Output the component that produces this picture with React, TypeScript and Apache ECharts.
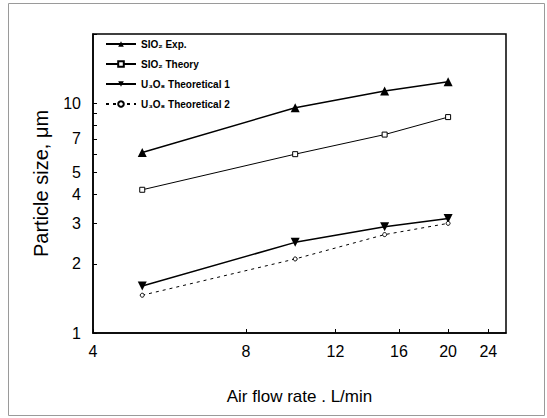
import React, { useEffect, useRef } from "react";
import * as echarts from "echarts";

const flowRates = [5, 10, 15, 20];
const sio2Exp = [6.1, 9.55, 11.3, 12.4];
const sio2Theory = [4.2, 6.0, 7.3, 8.7];
const u3o8Theo1 = [1.6, 2.48, 2.9, 3.15];
const u3o8Theo2 = [1.46, 2.1, 2.68, 3.0];

const xTickLabels = [4, 8, 12, 16, 20, 24];
const yTickLabels = [1, 2, 3, 4, 5, 7, 10];
const yTicks = [1, 2, 3, 4, 5, 6, 7, 8, 9, 10, 20];

const seriesNames = [
  "SIO\u2082 Exp.",
  "SIO\u2082 Theory",
  "U\u2083O\u2088 Theoretical 1",
  "U\u2083O\u2088 Theoretical 2",
];

const pairs = (ys: number[]) => flowRates.map((x, i) => [x, ys[i]]);

export default function App() {
  const ref = useRef<HTMLDivElement>(null);
  useEffect(() => {
    if (!ref.current) return;
    const chart = echarts.init(ref.current, undefined, { renderer: "svg" });
    const font = "'Liberation Sans', Arial, sans-serif";
    chart.setOption({
      animation: false,
      backgroundColor: "#fff",
      textStyle: { fontFamily: font, color: "#000" },
      graphic: [
        {
          type: "rect",
          shape: { x: 8.5, y: 3.5, width: 536, height: 412 },
          style: { fill: "none", stroke: "#9a9a9a", lineWidth: 1 },
          silent: true,
        },
      ],
      grid: {
        left: 93,
        top: 34,
        right: 41,
        bottom: 85,
        show: true,
        borderColor: "#000",
        borderWidth: 1.5,
        backgroundColor: "transparent",
      },
      legend: {
        left: 100,
        top: 34,
        orient: "vertical",
        itemWidth: 30,
        itemHeight: 7,
        itemGap: 10,
        textStyle: { fontSize: 10, fontWeight: "bold", color: "#000", fontFamily: font },
        data: seriesNames,
      },
      xAxis: {
        type: "log",
        logBase: 10,
        min: 4,
        max: 26,
        name: "Air flow rate . L/min",
        nameLocation: "middle",
        nameGap: 55,
        nameTextStyle: { fontSize: 17, color: "#000", fontFamily: font },
        axisLine: { show: true, lineStyle: { color: "#000", width: 1.5 } },
        axisTick: { show: true, inside: true, length: 4, lineStyle: { color: "#000" }, customValues: xTickLabels },
        axisLabel: { color: "#000", fontSize: 16, margin: 10, customValues: xTickLabels, formatter: (v: number) => String(v) },
        minorTick: { show: false },
        splitLine: { show: false },
      },
      yAxis: {
        type: "log",
        logBase: 10,
        min: 1,
        max: 20,
        name: "Particle size, \u03bcm",
        nameLocation: "middle",
        nameGap: 42,
        nameTextStyle: { fontSize: 20, color: "#000", fontFamily: font },
        axisLine: { show: true, lineStyle: { color: "#000", width: 1.5 } },
        axisTick: { show: true, inside: true, length: 4, lineStyle: { color: "#000" }, customValues: yTicks },
        axisLabel: { color: "#000", fontSize: 16, margin: 12, customValues: yTickLabels, formatter: (v: number) => String(v) },
        minorTick: { show: false },
        splitLine: { show: false },
      },
      series: [
        {
          name: seriesNames[0],
          type: "line",
          data: pairs(sio2Exp),
          symbol: "triangle",
          symbolSize: 9,
          itemStyle: { color: "#000" },
          lineStyle: { color: "#000", width: 1.5 },
        },
        {
          name: seriesNames[1],
          type: "line",
          data: pairs(sio2Theory),
          symbol: "rect",
          symbolSize: 5,
          itemStyle: { color: "#fff", borderColor: "#000", borderWidth: 1 },
          lineStyle: { color: "#000", width: 1 },
        },
        {
          name: seriesNames[2],
          type: "line",
          data: pairs(u3o8Theo1),
          symbol: "triangle",
          symbolRotate: 180,
          symbolSize: 9,
          itemStyle: { color: "#000" },
          lineStyle: { color: "#000", width: 1.5 },
        },
        {
          name: seriesNames[3],
          type: "line",
          data: pairs(u3o8Theo2),
          symbol: "circle",
          symbolSize: 4,
          itemStyle: { color: "#fff", borderColor: "#000", borderWidth: 1 },
          lineStyle: { color: "#000", width: 1, type: [3, 4] },
        },
      ],
    });
    return () => chart.dispose();
  }, []);
  return (
    <div
      ref={ref}
      style={{ position: "fixed", left: 0, top: 0, width: 547, height: 418 }}
    />
  );
}
